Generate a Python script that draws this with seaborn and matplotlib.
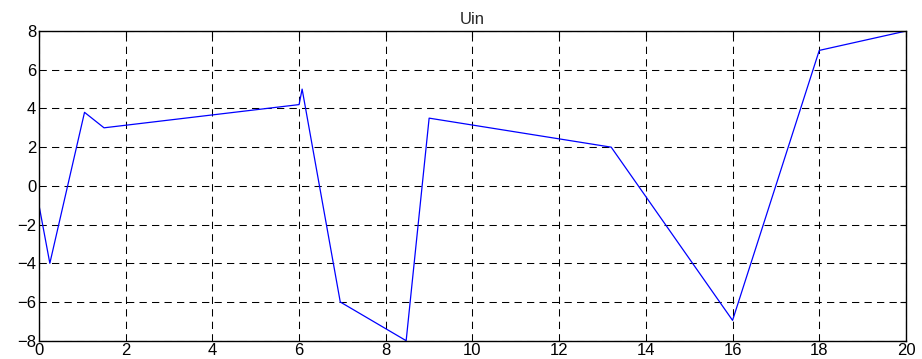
import pandas as pd
import numpy as np
import matplotlib
matplotlib.use("Agg")
import matplotlib.pyplot as plt
import seaborn as sns

t = [0.0, 0.25, 1.05, 1.5, 6.0, 6.07, 6.95, 8.47, 9.0, 13.2, 16.0, 18.0, 20.0]
uin = [-1.0, -4.0, 3.8, 3.0, 4.2, 5.0, -6.0, -8.0, 3.5, 2.0, -6.95, 7.0, 8.0]

df = pd.DataFrame({"t": t, "Uin": uin})

sns.set_style("white")
plt.rcParams["font.family"] = ["Liberation Sans", "DejaVu Sans"]

fig = plt.figure(figsize=(9.22, 3.59), dpi=100)
ax = fig.add_axes([0.0423, 0.051, 0.9403, 0.8625])
sns.lineplot(x="t", y="Uin", data=df, color="blue", linewidth=0.9, ax=ax, sort=False)

ax.set_xlim(0, 20)
ax.set_ylim(-8, 8)
ax.set_xticks(np.arange(0, 21, 2))
ax.set_yticks(np.arange(-8, 9, 2))
ax.grid(True, color="black", linestyle=(0, (7, 5)), linewidth=0.75)
ax.tick_params(direction="in", length=4, top=True, right=True, labelsize=12, pad=2, colors="black")
for s in ax.spines.values():
    s.set_color("black")
    s.set_linewidth(1.0)
ax.set_xlabel("")
ax.set_ylabel("")
ax.set_title("Uin", fontsize=12, pad=5)

plt.savefig("out.png", dpi=100)
